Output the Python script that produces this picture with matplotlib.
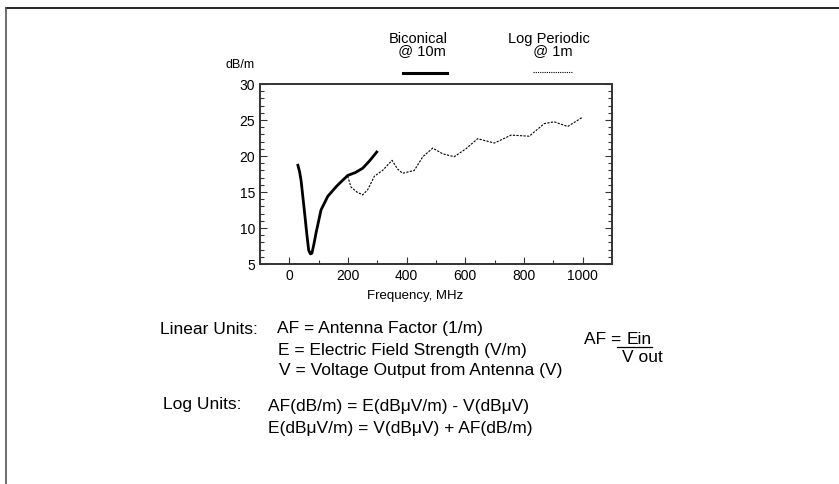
import matplotlib.pyplot as plt
from matplotlib.lines import Line2D
from matplotlib.ticker import MultipleLocator

plt.rcParams['font.family'] = ['Liberation Sans', 'DejaVu Sans']

W, H = 839, 484

# Biconical antenna factor @ 10m
bicon_mhz = [28, 35, 40, 51, 60, 66, 72, 77, 84, 91, 108, 131, 161, 176, 199, 225, 250, 273, 301]
bicon_db = [18.9, 17.8, 16.6, 12.5, 9.0, 6.9, 6.4, 6.5, 7.8, 9.3, 12.5, 14.4, 15.8, 16.4,
            17.3, 17.7, 18.3, 19.3, 20.7]

# Log periodic antenna factor @ 1m
logp_mhz = [199, 210, 230, 250, 267, 290, 318, 350, 369, 386, 426, 455, 489, 523,
            562, 602, 642, 699, 756, 818, 869, 903, 949, 1000]
logp_db = [17.2, 15.7, 15.0, 14.6, 15.3, 17.2, 18.0, 19.4, 18.2, 17.6, 18.0, 19.9, 21.1, 20.3,
           19.9, 21.0, 22.4, 21.8, 22.9, 22.75, 24.5, 24.75, 24.1, 25.4]

x_ticks = [0, 200, 400, 600, 800, 1000]
y_ticks = [5, 10, 15, 20, 25, 30]

linear_lines = ["AF = Antenna Factor (1/m)",
                "E = Electric Field Strength (V/m)",
                "V = Voltage Output from Antenna (V)"]
log_lines = ["AF(dB/m) = E(dB\u03bcV/m) - V(dB\u03bcV)",
             "E(dB\u03bcV/m) = V(dB\u03bcV) + AF(dB/m)"]


def fx(px):
    return px / W


def fy(py):
    return 1 - py / H


fig = plt.figure(figsize=(W / 100, H / 100), dpi=100)
ax = fig.add_axes([fx(260), fy(264), fx(612) - fx(260), fy(84) - fy(264)])

ax.plot(bicon_mhz, bicon_db, color="black", lw=2.0, solid_capstyle="butt",
        solid_joinstyle="round")
ax.plot(logp_mhz, logp_db, color="black", lw=0.8, linestyle=(0, (2, 1.2)))

ax.set_xlim(-100, 1100)
ax.set_ylim(5, 30)
ax.set_xticks(x_ticks)
ax.set_yticks(y_ticks)
ax.xaxis.set_minor_locator(MultipleLocator(100))
ax.yaxis.set_minor_locator(MultipleLocator(1))
ax.tick_params(which="both", direction="in", top=False, right=True,
               labelsize=10, width=0.8, color="#333333")
ax.tick_params(which="major", length=5)
ax.tick_params(which="minor", length=3)
for s in ax.spines.values():
    s.set_linewidth(1.4)
    s.set_color("#333333")
ax.set_xlabel("Frequency, MHz", fontsize=9.5)
ax.xaxis.set_label_coords((415 - 260) / (612 - 260), -(296 - 264) / (264 - 84))
ax.xaxis.label.set_va("center")

fig.text(fx(240), fy(65), "dB/m", fontsize=9, ha="center", va="center")

# legend drawn by hand above the axes
fig.text(fx(418), fy(45), "Biconical\n  @ 10m", fontsize=10.5, ha="center",
         va="center", linespacing=0.9)
fig.text(fx(549), fy(45), "Log Periodic\n  @ 1m", fontsize=10.5, ha="center",
         va="center", linespacing=0.9)
fig.add_artist(Line2D([fx(403), fx(447)], [fy(73), fy(73)], color="black", lw=2.2))
fig.add_artist(Line2D([fx(533), fx(573)], [fy(72), fy(72)], color="black", lw=0.8,
                      linestyle=(0, (1, 1))))

# explanation text
fs = 12.5
fig.text(fx(160), fy(329), "Linear Units:", fontsize=fs, va="center")
for i, (t, x0) in enumerate(zip(linear_lines, [277, 278, 279])):
    fig.text(fx(x0), fy(329 + 21 * i), t, fontsize=fs, va="center")
fig.text(fx(163), fy(404), "Log Units:", fontsize=fs, va="center")
for i, t in enumerate(log_lines):
    fig.text(fx(268), fy(407 + 22 * i), t, fontsize=fs, va="center")

fig.text(fx(584), fy(339), "AF =", fontsize=fs, va="center")
fig.text(fx(627), fy(339), "Ein", fontsize=fs, va="center")
fig.add_artist(Line2D([fx(617), fx(652)], [fy(347), fy(347)], color="black", lw=0.9))
fig.text(fx(622), fy(358), "V out", fontsize=fs, va="center")

# frame: top and left edges only
fig.add_artist(Line2D([fx(6), fx(839)], [fy(8), fy(8)], color="black", lw=1.2))
fig.add_artist(Line2D([fx(6), fx(6)], [fy(8), fy(484)], color="#555555", lw=1.2))

fig.savefig("out.png", dpi=100)
